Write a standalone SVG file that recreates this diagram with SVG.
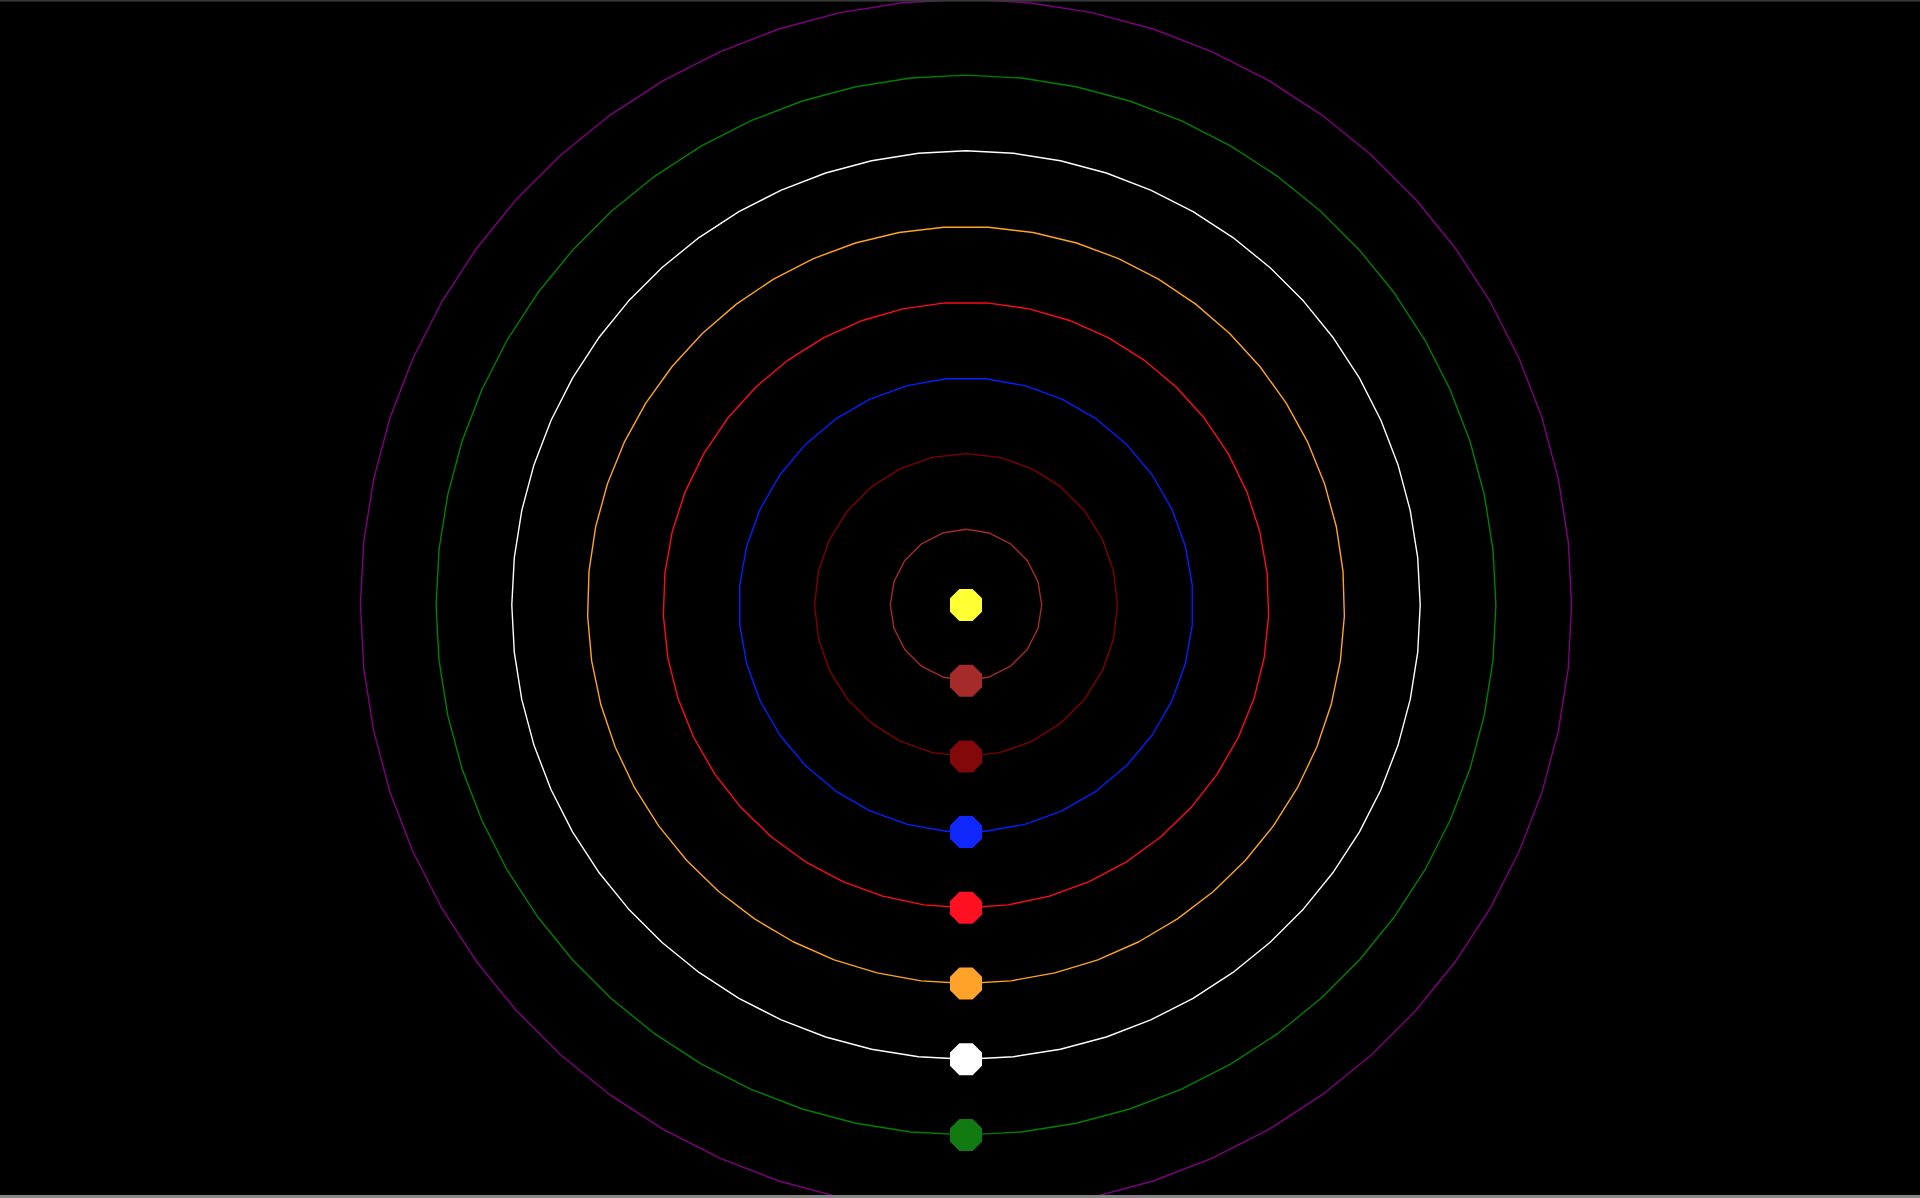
<svg xmlns="http://www.w3.org/2000/svg" xmlns:xlink="http://www.w3.org/1999/xlink" width="1920" height="1198" viewBox="0 0 1920 1198">
<style>
.orb{fill:none;stroke-width:1.4;vector-effect:non-scaling-stroke;stroke-linejoin:round}
</style>
<defs>
<polygon id="pl" points="-6.63,-16 6.63,-16 16,-6.63 16,6.63 6.63,16 -6.63,16 -16,6.63 -16,-6.63"/>
<polygon id="o20" class="orb" points="0,-100 30.902,-95.106 58.779,-80.902 80.902,-58.779 95.106,-30.902 100,0 95.106,30.902 80.902,58.779 58.779,80.902 30.902,95.106 0,100 -30.902,95.106 -58.779,80.902 -80.902,58.779 -95.106,30.902 -100,0 -95.106,-30.902 -80.902,-58.779 -58.779,-80.902 -30.902,-95.106"/>
<polygon id="o28" class="orb" points="0,-100 22.25,-97.49 43.39,-90.10 62.35,-78.18 78.18,-62.35 90.10,-43.39 97.49,-22.25 100,0 97.49,22.25 90.10,43.39 78.18,62.35 62.35,78.18 43.39,90.10 22.25,97.49 0,100 -22.25,97.49 -43.39,90.10 -62.35,78.18 -78.18,62.35 -90.10,43.39 -97.49,22.25 -100,0 -97.49,-22.25 -90.10,-43.39 -78.18,-62.35 -62.35,-78.18 -43.39,-90.10 -22.25,-97.49"/>
<polygon id="o36" class="orb" points="8.72,-99.62 25.88,-96.59 42.26,-90.63 57.36,-81.92 70.71,-70.71 81.92,-57.36 90.63,-42.26 96.59,-25.88 99.62,-8.72 99.62,8.72 96.59,25.88 90.63,42.26 81.92,57.36 70.71,70.71 57.36,81.92 42.26,90.63 25.88,96.59 8.72,99.62 -8.72,99.62 -25.88,96.59 -42.26,90.63 -57.36,81.92 -70.71,70.71 -81.92,57.36 -90.63,42.26 -96.59,25.88 -99.62,8.72 -99.62,-8.72 -96.59,-25.88 -90.63,-42.26 -81.92,-57.36 -70.71,-70.71 -57.36,-81.92 -42.26,-90.63 -25.88,-96.59 -8.72,-99.62"/>
<polygon id="o45" class="orb" points="6.98,-99.76 20.79,-97.81 34.20,-93.97 46.95,-88.29 58.78,-80.90 69.47,-71.93 78.80,-61.57 86.60,-50 92.72,-37.46 97.03,-24.19 99.45,-10.45 99.94,3.49 98.48,17.36 95.11,30.90 89.88,43.84 82.90,55.92 74.31,66.91 64.28,76.60 52.99,84.80 40.67,91.36 27.56,96.13 13.92,99.03 0,100 -13.92,99.03 -27.56,96.13 -40.67,91.36 -52.99,84.80 -64.28,76.60 -74.31,66.91 -82.90,55.92 -89.88,43.84 -95.11,30.90 -98.48,17.36 -99.94,3.49 -99.45,-10.45 -97.03,-24.19 -92.72,-37.46 -86.60,-50 -78.80,-61.57 -69.47,-71.93 -58.78,-80.90 -46.95,-88.29 -34.20,-93.97 -20.79,-97.81 -6.98,-99.76"/>
<polygon id="o53" class="orb" points="5.92,-99.82 17.69,-98.42 29.21,-95.64 40.31,-91.52 50.85,-86.11 60.68,-79.49 69.66,-71.75 77.65,-63.01 84.56,-53.38 90.28,-43.01 94.73,-32.03 97.86,-20.60 99.61,-8.88 99.96,2.96 98.90,14.77 96.47,26.36 92.67,37.58 87.57,48.28 81.25,58.30 73.78,67.50 65.28,75.75 55.86,82.94 45.66,88.97 34.82,93.74 23.49,97.20 11.83,99.30 0,100 -11.83,99.30 -23.49,97.20 -34.82,93.74 -45.66,88.97 -55.86,82.94 -65.28,75.75 -73.78,67.50 -81.25,58.30 -87.57,48.28 -92.67,37.58 -96.47,26.36 -98.90,14.77 -99.96,2.96 -99.61,-8.88 -97.86,-20.60 -94.73,-32.03 -90.28,-43.01 -84.56,-53.38 -77.65,-63.01 -69.66,-71.75 -60.68,-79.49 -50.85,-86.11 -40.31,-91.52 -29.21,-95.64 -17.69,-98.42 -5.92,-99.82"/>
<polygon id="o60" class="orb" points="0,-100 10.45,-99.45 20.79,-97.81 30.90,-95.11 40.67,-91.35 50,-86.60 58.78,-80.90 66.91,-74.31 74.31,-66.91 80.90,-58.78 86.60,-50 91.35,-40.67 95.11,-30.90 97.81,-20.79 99.45,-10.45 100,0 99.45,10.45 97.81,20.79 95.11,30.90 91.35,40.67 86.60,50 80.90,58.78 74.31,66.91 66.91,74.31 58.78,80.90 50,86.60 40.67,91.35 30.90,95.11 20.79,97.81 10.45,99.45 0,100 -10.45,99.45 -20.79,97.81 -30.90,95.11 -40.67,91.35 -50,86.60 -58.78,80.90 -66.91,74.31 -74.31,66.91 -80.90,58.78 -86.60,50 -91.35,40.67 -95.11,30.90 -97.81,20.79 -99.45,10.45 -100,0 -99.45,-10.45 -97.81,-20.79 -95.11,-30.90 -91.35,-40.67 -86.60,-50 -80.90,-58.78 -74.31,-66.91 -66.91,-74.31 -58.78,-80.90 -50,-86.60 -40.67,-91.35 -30.90,-95.11 -20.79,-97.81 -10.45,-99.45"/>
</defs>
<rect x="0" y="0" width="1920" height="1198" fill="#000"/>
<g id="connectors">
<use xlink:href="#o20" href="#o20" transform="translate(966 605) scale(0.757)" stroke="#a52a2a"/>
<use xlink:href="#o28" href="#o28" transform="translate(966 605) scale(1.514)" stroke="#800000"/>
<use xlink:href="#o36" href="#o36" transform="translate(966 605) scale(2.271)" stroke="#0022ff"/>
<use xlink:href="#o45" href="#o45" transform="translate(966 605) scale(3.028)" stroke="#ff0a1e"/>
<use xlink:href="#o53" href="#o53" transform="translate(966 605) scale(3.785)" stroke="#ffa51e"/>
<use xlink:href="#o60" href="#o60" transform="translate(966 605) scale(4.542)" stroke="#ffffff"/>
<use xlink:href="#o60" href="#o60" transform="translate(966 605) scale(5.299)" stroke="#008000"/>
<use xlink:href="#o60" href="#o60" transform="translate(966 605) scale(6.056)" stroke="#800080"/>
</g>
<g id="sun"><use xlink:href="#pl" href="#pl" transform="translate(966 605)" fill="#ffff33"/></g>
<g id="planet1"><use xlink:href="#pl" href="#pl" transform="translate(966 680.7)" fill="#a52a2a"/></g>
<g id="planet2"><use xlink:href="#pl" href="#pl" transform="translate(966 756.4)" fill="#82080a"/></g>
<g id="planet3"><use xlink:href="#pl" href="#pl" transform="translate(966 832.1)" fill="#1028ff"/></g>
<g id="planet4"><use xlink:href="#pl" href="#pl" transform="translate(966 907.8)" fill="#ff1122"/></g>
<g id="planet5"><use xlink:href="#pl" href="#pl" transform="translate(966 983.5)" fill="#ffa22a"/></g>
<g id="planet6"><use xlink:href="#pl" href="#pl" transform="translate(966 1059.2)" fill="#ffffff"/></g>
<g id="planet7"><use xlink:href="#pl" href="#pl" transform="translate(966 1134.9)" fill="#117a11"/></g>
<rect x="0" y="0" width="1920" height="1.6" fill="#383838"/>
<rect x="0" y="1195" width="1920" height="3" fill="#888888"/>
</svg>
